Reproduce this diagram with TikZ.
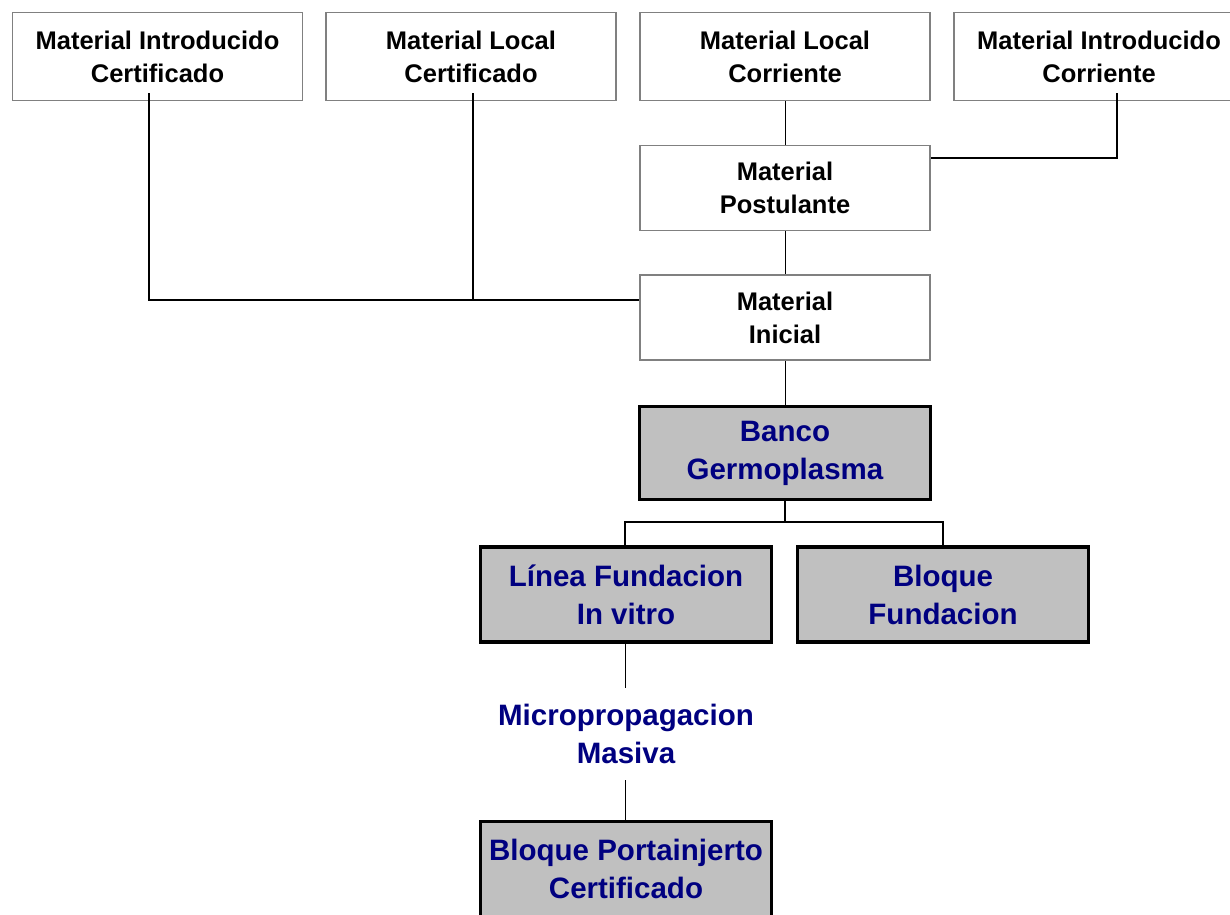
\documentclass[tikz,border=0pt]{standalone}
\usepackage{fontspec}
\setmainfont{Liberation Sans}
\definecolor{boxgray}{HTML}{808080}
\definecolor{fillgray}{HTML}{C0C0C0}
\definecolor{navytext}{HTML}{000080}
\begin{document}
\begin{tikzpicture}[x=1pt,y=-1pt,
  whitebox/.style={draw=boxgray, line width=1.8pt, fill=white, minimum width=290pt, inner sep=0pt,
    align=center, font=\fontsize{25.5}{33}\selectfont\bfseries, text=black},
  graybox/.style={draw=black, line width=3.4pt, fill=fillgray, minimum width=291pt, inner sep=0pt,
    align=center, font=\fontsize{29.5}{38}\selectfont\bfseries, text=navytext},
  thin/.style={draw=black, line width=1pt},
  thick/.style={draw=black, line width=2pt},
  mid/.style={draw=black, line width=1.5pt}]
\useasboundingbox (0,0) rectangle (1230,914);
\clip (0,0) rectangle (1230,914);
\node[whitebox, minimum height=88pt] (b1) at (157.5,56.5) {Material Introducido\\Certificado};
\node[whitebox, minimum height=88pt] (b2) at (471,56.5) {Material Local\\Certificado};
\node[whitebox, minimum height=88pt] (b3) at (785,56.5) {Material Local\\Corriente};
\node[whitebox, minimum height=88pt] (b4) at (1099,56.5) {Material Introducido\\Corriente};
\node[whitebox, minimum height=85pt] (post) at (785,188) {Material\\Postulante};
\node[whitebox, minimum height=85pt] (ini) at (785,317.5) {Material\\Inicial};
\node[graybox, minimum height=93pt] (banco) at (785,453) {Banco\\Germoplasma};
\node[graybox, minimum height=95pt] (linea) at (626,594.5) {Línea Fundacion\\In vitro};
\node[graybox, minimum height=95pt] (bloque) at (943,594.5) {Bloque\\Fundacion};
\node[align=center, font=\fontsize{29.5}{38}\selectfont\bfseries, text=navytext, inner sep=0pt,
  minimum height=92pt, minimum width=280pt] (micro) at (626,734) {Micropropagacion\\Masiva};
\node[graybox, minimum height=95pt] (porta) at (626,869) {Bloque Portainjerto\\Certificado};
% connectors
\coordinate (inileft) at ([yshift=17.5pt]ini.west);
\coordinate (postright) at ([yshift=30pt]post.east);
\draw[thin] (b3.south) -- (post.north);
\draw[thick] ([xshift=18pt,yshift=8pt]b4.south) |- (postright);
\draw[thin] (post.south) -- (ini.north);
\draw[thick] ([xshift=-8.5pt,yshift=8pt]b1.south) |- (inileft);
\draw[thick] ([xshift=2pt,yshift=8pt]b2.south) -- ([xshift=2pt]b2.south |- inileft);
\draw[thin] (ini.south) -- (banco.north);
\coordinate (split) at (785,522);
\draw[mid] (banco.south) -- (split);
\draw[mid] ([xshift=-1pt]linea.north) |- (split) -| (bloque.north);
\draw[thin] ([xshift=-1pt]linea.south) -- ([xshift=-1pt]micro.north);
\draw[thin] ([xshift=-1pt]micro.south) -- ([xshift=-1pt]porta.north);
\end{tikzpicture}
\end{document}
